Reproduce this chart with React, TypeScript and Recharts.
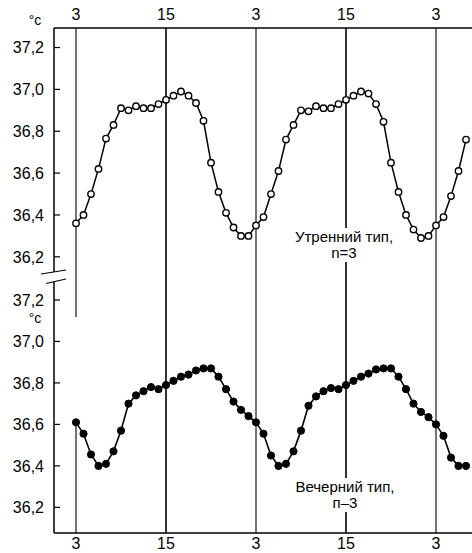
import React from "react";
import { LineChart, Line, XAxis, YAxis, ReferenceLine } from "recharts";

// hourly readings, starting at 3 h of the first day (double plot, ~53 h)
const FIRST_HOUR = 3;

const MORNING = [
  36.36, 36.4, 36.5, 36.62, 36.765, 36.83, 36.91, 36.9, 36.92, 36.91, 36.91, 36.93,
  36.95, 36.97, 36.99, 36.97, 36.935, 36.85, 36.65, 36.51, 36.41, 36.34, 36.3, 36.3,
  36.35, 36.39, 36.5, 36.61, 36.76, 36.83, 36.9, 36.895, 36.92, 36.91, 36.91, 36.93,
  36.95, 36.97, 36.99, 36.98, 36.93, 36.845, 36.65, 36.51, 36.4, 36.33, 36.29, 36.3,
  36.35, 36.39, 36.49, 36.61, 36.76,
];

const EVENING = [
  36.61, 36.555, 36.455, 36.4, 36.41, 36.47, 36.57, 36.7, 36.74, 36.76, 36.78, 36.77,
  36.79, 36.81, 36.83, 36.84, 36.86, 36.87, 36.87, 36.83, 36.77, 36.71, 36.67, 36.64,
  36.61, 36.555, 36.45, 36.4, 36.41, 36.47, 36.57, 36.69, 36.735, 36.76, 36.775, 36.77,
  36.79, 36.81, 36.83, 36.845, 36.865, 36.87, 36.87, 36.83, 36.77, 36.7, 36.66, 36.635,
  36.6, 36.545, 36.44, 36.4, 36.4,
];

const HOUR_TICKS = [3, 15, 27, 39, 51];
const HOUR_LABELS = ["3", "15", "3", "15", "3"];
const TEMP_TICKS = [36.2, 36.4, 36.6, 36.8, 37.0, 37.2];

const X_DOMAIN = [0.067, 55.8];
const TOP_DOMAIN = [36.0749, 37.2933];
const BOTTOM_DOMAIN = [36.0764, 37.2818];

const FONT = "'Liberation Sans', Arial, sans-serif";

const toRows = (values: number[]) =>
  values.map((t, i) => ({ h: FIRST_HOUR + i, t }));

const hourLabel = (v: number) => HOUR_LABELS[HOUR_TICKS.indexOf(v)] ?? "";

const YTick = (props: any) => {
  const { x, y, payload } = props;
  return (
    <g>
      <line x1={x} x2={x + 6} y1={y} y2={y} stroke="#000" strokeWidth={1.2} />
      <text
        x={x - 10}
        y={y}
        dy="0.36em"
        textAnchor="end"
        fontSize={16}
        fontFamily={FONT}
        fill="#000"
      >
        {payload.value.toFixed(1).replace(".", ",")}
      </text>
    </g>
  );
};

const gridLines = (skipFirst: boolean) =>
  HOUR_TICKS.filter((h, i) => !(skipFirst && i === 0)).map((h) => (
    <ReferenceLine
      key={`v-${h}`}
      x={h}
      stroke="#000"
      strokeWidth={h % 24 === 15 ? 1.6 : 1.1}
    />
  ));

export default function App() {
  const morning = toRows(MORNING);
  const evening = toRows(EVENING);

  return (
    <div
      style={{
        position: "absolute",
        left: 0,
        top: 0,
        width: 472,
        height: 553,
        background: "#fff",
        fontFamily: FONT,
      }}
    >
      <div style={{ position: "absolute", left: 0, top: 0 }}>
        <LineChart
          width={472}
          height={283}
          data={morning}
          margin={{ top: 0, right: 0, bottom: 0, left: 0 }}
        >
          <XAxis
            xAxisId={0}
            dataKey="h"
            type="number"
            orientation="top"
            domain={X_DOMAIN}
            allowDataOverflow
            ticks={HOUR_TICKS}
            tickFormatter={hourLabel}
            height={28}
            tickLine={false}
            tickSize={0}
            tickMargin={8}
            axisLine={{ stroke: "#000", strokeWidth: 1.3 }}
            tick={{ fill: "#000", fontSize: 16, fontFamily: FONT }}
          />
          <YAxis
            yAxisId={0}
            type="number"
            domain={TOP_DOMAIN}
            allowDataOverflow
            ticks={TEMP_TICKS}
            width={54}
            tickLine={false}
            tickSize={0}
            tickMargin={0}
            axisLine={{ stroke: "#000", strokeWidth: 1.5 }}
            tick={<YTick />}
          />
          {gridLines(false)}
          <Line
            dataKey="t"
            type="linear"
            stroke="#000"
            strokeWidth={1.5}
            dot={{ r: 3.2, fill: "#fff", stroke: "#000", strokeWidth: 1.4 }}
            isAnimationActive={false}
          />
        </LineChart>
      </div>

      <div style={{ position: "absolute", left: 0, top: 283 }}>
        <LineChart
          width={472}
          height={270}
          data={evening}
          margin={{ top: 0, right: 0, bottom: 0, left: 0 }}
        >
          <XAxis
            xAxisId={0}
            dataKey="h"
            type="number"
            orientation="bottom"
            domain={X_DOMAIN}
            allowDataOverflow
            ticks={HOUR_TICKS}
            tickFormatter={hourLabel}
            height={20}
            tickLine={false}
            tickSize={0}
            tickMargin={5}
            axisLine={{ stroke: "#000", strokeWidth: 1.3 }}
            tick={{ fill: "#000", fontSize: 16, fontFamily: FONT }}
          />
          <YAxis
            yAxisId={0}
            type="number"
            domain={BOTTOM_DOMAIN}
            allowDataOverflow
            ticks={TEMP_TICKS}
            width={54}
            tickLine={false}
            tickSize={0}
            tickMargin={0}
            axisLine={{ stroke: "#000", strokeWidth: 1.5 }}
            tick={<YTick />}
          />
          {gridLines(true)}
          <ReferenceLine
            segment={[
              { x: HOUR_TICKS[0], y: BOTTOM_DOMAIN[1] },
              { x: HOUR_TICKS[0], y: 37.118 },
            ]}
            stroke="#000"
            strokeWidth={1.1}
          />
          <ReferenceLine
            segment={[
              { x: HOUR_TICKS[0], y: EVENING[0] },
              { x: HOUR_TICKS[0], y: BOTTOM_DOMAIN[0] },
            ]}
            stroke="#000"
            strokeWidth={1.1}
          />
          <Line
            dataKey="t"
            type="linear"
            stroke="#000"
            strokeWidth={1.6}
            dot={{ r: 3.6, fill: "#000", stroke: "#000", strokeWidth: 1 }}
            isAnimationActive={false}
          />
        </LineChart>
      </div>

      {/* axis break, units and captions */}
      <svg
        width={472}
        height={553}
        style={{ position: "absolute", left: 0, top: 0, pointerEvents: "none" }}
      >
        <polygon points="41,274 66,270 66,279 46,283.5" fill="#fff" />
        <line x1={41} y1={274} x2={66} y2={270} stroke="#000" strokeWidth={1.1} />
        <line x1={46} y1={283.5} x2={66} y2={279} stroke="#000" strokeWidth={1.1} />

        <text x={35} y={25} textAnchor="middle" fontSize={14} fontFamily={FONT}>
          °c
        </text>
        <text x={35} y={323} textAnchor="middle" fontSize={14} fontFamily={FONT}>
          °c
        </text>

        <rect x={339} y={228} width={14} height={34} fill="#fff" />
        <text x={344} y={242} textAnchor="middle" fontSize={15} fontFamily={FONT}>
          Утренний тип,
        </text>
        <text x={344} y={258} textAnchor="middle" fontSize={15} fontFamily={FONT}>
          n=3
        </text>

        <rect x={340} y={478} width={14} height={34} fill="#fff" />
        <text x={345} y={492} textAnchor="middle" fontSize={15} fontFamily={FONT}>
          Вечерний тип,
        </text>
        <text x={345} y={508} textAnchor="middle" fontSize={15} fontFamily={FONT}>
          п–3
        </text>
      </svg>
    </div>
  );
}
